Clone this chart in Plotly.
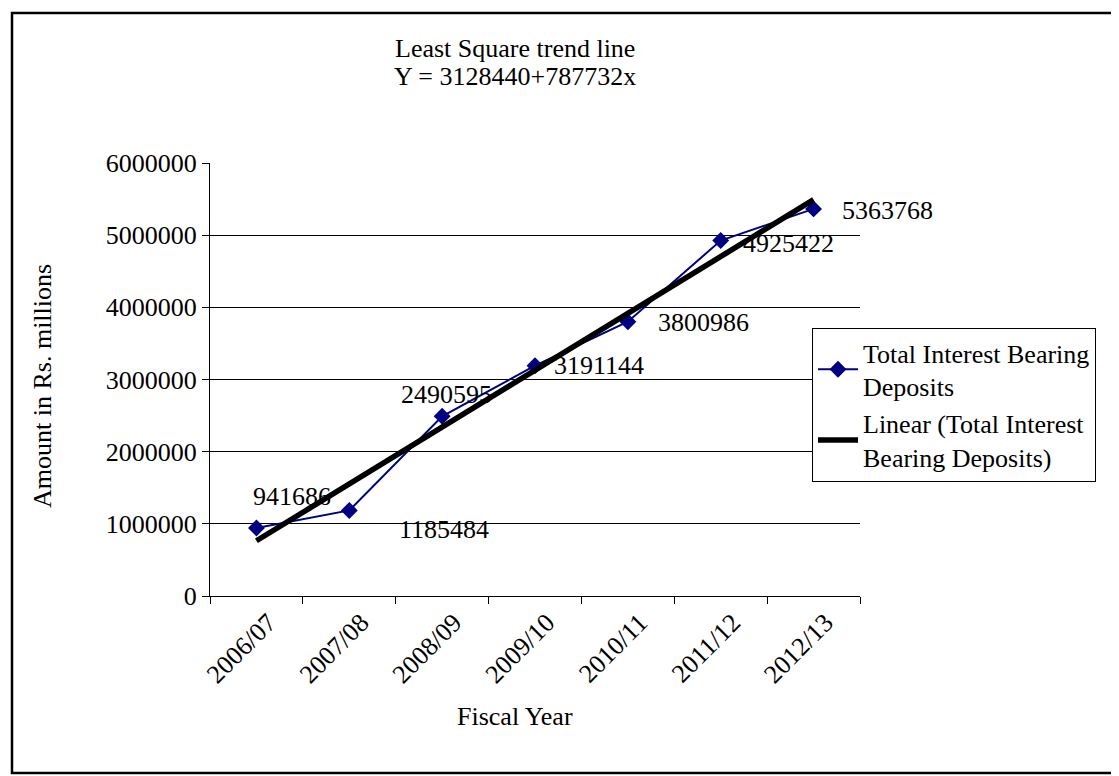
import numpy as np
import plotly.graph_objects as go

# data
fiscal_years = ["2006/07", "2007/08", "2008/09", "2009/10", "2010/11", "2011/12", "2012/13"]
deposits = [941686, 1185484, 2490595, 3191144, 3800986, 4925422, 5363768]
y_ticks = [0, 1000000, 2000000, 3000000, 4000000, 5000000, 6000000]
title_lines = ["Least Square trend line", "Y = 3128440+787732x"]

# least square trend line through the deposits (x = 0..6)
idx = np.arange(len(deposits))
slope, intercept = np.polyfit(idx, deposits, 1)
trend = intercept + slope * idx

# data label offsets in pixels (dx right, dy up), placed like the excel chart
label_offsets = [(36, 32), (95, -19), (4, 22), (64, 0), (76, -1), (68, -3), (74, -2)]

# page body has an 8px margin, so work in page pixels and shift back
OFF = 8
W, H = 1119 - OFF, 776 - OFF
L, R, T, B = 210 - OFF, 860 - OFF, 163 - OFF, 596 - OFF
FONT = "Liberation Serif"
FS = 26


def px_x(p):
    return (p - OFF - L) / (R - L)


def px_y(p):
    return (B - (p - OFF)) / (B - T)


fig = go.Figure()
fig.add_trace(go.Scatter(
    x=fiscal_years, y=deposits,
    mode="lines+markers",
    name="Total Interest Bearing<br>Deposits",
    line=dict(color="#000080", width=2),
    marker=dict(symbol="diamond", size=13, color="#000080"),
))
fig.add_trace(go.Scatter(
    x=fiscal_years, y=trend,
    mode="lines",
    name="Linear (Total Interest<br>Bearing Deposits)",
    line=dict(color="black", width=5.5),
))

for fy, val, (dx, dy) in zip(fiscal_years, deposits, label_offsets):
    fig.add_annotation(x=fy, y=val, text=str(val), showarrow=False,
                       xanchor="center", yanchor="middle",
                       xshift=dx, yshift=dy, font=dict(size=FS, color="black"))

# chart title, two lines
for line, ypos in zip(title_lines, [48, 76]):
    fig.add_annotation(x=px_x(515), y=px_y(ypos), xref="paper", yref="paper",
                       text=line, showarrow=False, xanchor="center", yanchor="middle",
                       font=dict(size=FS))

# axis titles
fig.add_annotation(x=px_x(515), y=px_y(716), xref="paper", yref="paper",
                   text="Fiscal Year", showarrow=False, xanchor="center", yanchor="middle",
                   font=dict(size=FS))
fig.add_annotation(x=px_x(42), y=px_y(386), xref="paper", yref="paper",
                   text="Amount in Rs. millions", textangle=-90, showarrow=False,
                   xanchor="center", yanchor="middle", font=dict(size=FS))

# outer chart border
fig.add_shape(type="rect", xref="paper", yref="paper",
              x0=px_x(12), x1=px_x(1116), y0=px_y(773), y1=px_y(13),
              line=dict(color="black", width=2.5))

fig.update_layout(
    width=W, height=H,
    margin=dict(l=L, r=W - R, t=T, b=H - B),
    paper_bgcolor="white", plot_bgcolor="white",
    font=dict(family=FONT, size=FS, color="black"),
    showlegend=True,
    legend=dict(x=px_x(812), y=px_y(328), xanchor="left", yanchor="top",
                bordercolor="black", borderwidth=1, bgcolor="white",
                font=dict(size=26), itemwidth=40),
)
fig.update_xaxes(
    type="category", range=[-0.5, 6.5],
    tickson="boundaries", ticks="outside", ticklen=7, tickcolor="black",
    tickangle=-45, ticklabelshift=12, tickfont=dict(size=FS),
    showline=True, linecolor="black", linewidth=1,
    showgrid=False,
)
fig.update_yaxes(
    range=[0, 6000000], tickvals=y_ticks, ticktext=[str(v) for v in y_ticks],
    ticks="outside", ticklen=7, tickcolor="black",
    showline=True, linecolor="black", linewidth=1,
    showgrid=True, gridcolor="black", gridwidth=1, zeroline=False,
    tickfont=dict(size=FS),
)

fig.write_html("out.html")
